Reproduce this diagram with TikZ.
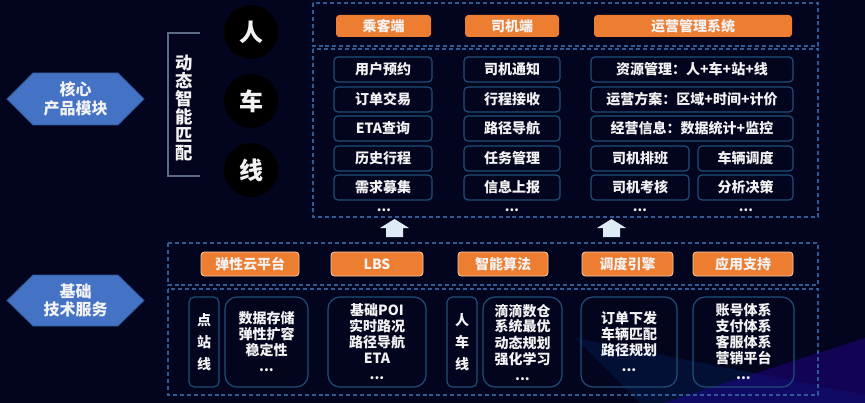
\documentclass[tikz,border=0pt]{standalone}
\usepackage{fontspec}
\setmainfont{Noto Sans CJK SC}
\definecolor{bg}{RGB}{3,5,30}
\definecolor{orng}{HTML}{ED7D31}
\definecolor{hexblue}{HTML}{4472C4}
\definecolor{dashc}{HTML}{2E5A96}
\definecolor{boxc}{HTML}{1F4E79}
\definecolor{arrc}{HTML}{DEEBF7}
\definecolor{brk}{HTML}{5B6A86}
\definecolor{txt}{HTML}{F2F2F2}
\newcommand\rbox[7]{\node[#1,minimum width={(#5-#3)*0.75pt},minimum height={(#6-#4)*0.75pt}] (#2) at ({(#3+#5)/2},{(#4+#6)/2}) {#7};}
\begin{document}
\begin{tikzpicture}[x=0.75pt,y=-0.75pt,
  every node/.style={text=txt},
  dbox/.style={draw=dashc,line width=0.9pt,dash pattern=on 3pt off 2.2pt},
  tab/.style={fill=orng,rounded corners=2.5pt,inner sep=0pt,font=\bfseries\fontsize{10.5}{12}\selectfont},
  tabb/.style={tab,draw=orng!40!white,line width=0.6pt},
  item/.style={draw=boxc,line width=0.9pt,rounded corners=3pt,inner sep=0pt,font=\bfseries\fontsize{10.5}{12}\selectfont},
  big/.style={draw=boxc,line width=0.9pt,rounded corners=9pt,inner sep=0pt,align=center,font=\bfseries\fontsize{10.5}{12}\selectfont},
  narrow/.style={draw=boxc,line width=0.9pt,rounded corners=4pt,inner sep=0pt,align=center,font=\bfseries\fontsize{10.5}{16.5}\selectfont},
  dots/.style={font=\bfseries\fontsize{10}{12}\selectfont,inner sep=0pt},
  circ/.style={circle,fill=black,minimum size=40.5pt,inner sep=0pt,font=\bfseries\fontsize{18}{20}\selectfont},
  hexa/.style={fill=hexblue,draw=dashc,line width=0.6pt},
  hextxt/.style={align=center,font=\bfseries\fontsize{12}{14}\selectfont},
  uparr/.style={fill=arrc}
]
\useasboundingbox (0,0) rectangle (865,403);
\fill[bg] (0,0) rectangle (865,403);
% background light wedges
\fill[fill=teal!60!blue,opacity=0.16] (575,338) -- (865,395) -- (865,403) -- (640,403) -- cycle;
\fill[fill=blue!60!violet,opacity=0.32] (663,403) -- (865,338) -- (865,403) -- cycle;

% hexagons
\fill[hexa] (7,99) -- (33,73) -- (118,73) -- (144,99) -- (118,125) -- (33,125) -- cycle;
\node[hextxt] (h1) at (75.5,99) {核心\\产品模块};
\fill[hexa] (7,300.5) -- (33,275) -- (118,275) -- (144,300.5) -- (118,326) -- (33,326) -- cycle;
\node[hextxt] (h2) at (75.5,300.5) {基础\\技术服务};

% bracket and vertical text
\coordinate (k1) at (200,33);
\coordinate (k2) at (168,33);
\coordinate (k3) at (168,176);
\coordinate (k4) at (200,176);
\draw[brk,line width=1pt] (k1) -- (k2) -- (k3) -- (k4);
\node[align=center,font=\bfseries\fontsize{13}{13.5}\selectfont,inner sep=0pt] (dyn) at (184,108) {动\\态\\智\\能\\匹\\配};

% circles
\node[circ] (c1) at (251,32) {人};
\node[circ] (c2) at (251,101) {车};
\node[circ] (c3) at (251,170) {线};

% top dashed boxes
\draw[dbox] (313,3) rectangle (818,46);
\draw[dbox] (313,49) rectangle (818,217);

% top tabs
\rbox{tab}{t1}{336}{15}{431}{37}{乘客端}
\rbox{tab}{t2}{465}{15}{559}{37}{司机端}
\rbox{tab}{t3}{594}{15}{792}{37}{运营管理系统}

% column 1
\rbox{item}{a1}{334}{57}{432}{82}{用户预约}
\rbox{item}{a2}{334}{87}{432}{112}{订单交易}
\rbox{item}{a3}{334}{116}{432}{141}{ETA查询}
\rbox{item}{a4}{334}{146}{432}{171}{历史行程}
\rbox{item}{a5}{334}{175}{432}{200}{需求募集}
\node[dots] (ad) at (384,210) {...};
% column 2
\rbox{item}{p1}{464}{57}{560}{82}{司机通知}
\rbox{item}{p2}{464}{87}{560}{112}{行程接收}
\rbox{item}{p3}{464}{116}{560}{141}{路径导航}
\rbox{item}{p4}{464}{146}{560}{171}{任务管理}
\rbox{item}{p5}{464}{175}{560}{200}{信息上报}
\node[dots] (pd) at (512,210) {...};
% column 3
\rbox{item}{m1}{591}{57}{793}{82}{资源管理：人+车+站+线}
\rbox{item}{m2}{591}{87}{793}{112}{运营方案：区域+时间+计价}
\rbox{item}{m3}{591}{116}{793}{141}{经营信息：数据统计+监控}
\rbox{item}{m4}{591}{146}{689}{171}{司机排班}
\rbox{item}{m5}{698}{146}{793}{171}{车辆调度}
\rbox{item}{m6}{591}{175}{689}{200}{司机考核}
\rbox{item}{m7}{698}{175}{793}{200}{分析决策}
\node[dots] (md1) at (640,210) {...};
\node[dots] (md2) at (746,210) {...};

% up arrows
\fill[uparr] (386,237) -- (386,228) -- (380,228) -- (394.5,219) -- (409,228) -- (403,228) -- (403,237) -- cycle;
\fill[uparr] (603,237) -- (603,228) -- (597,228) -- (611.5,219) -- (626,228) -- (620,228) -- (620,237) -- cycle;

% bottom dashed boxes
\draw[dbox] (168,243) rectangle (818,285);
\draw[dbox] (168,289) rectangle (818,395);

% bottom tabs
\rbox{tabb}{u1}{201}{252}{299}{276}{弹性云平台}
\rbox{tabb}{u2}{331}{252}{423}{276}{LBS}
\rbox{tabb}{u3}{458}{252}{548}{276}{智能算法}
\rbox{tabb}{u4}{582}{252}{673}{276}{调度引擎}
\rbox{tabb}{u5}{693}{252}{793}{276}{应用支持}

% bottom content boxes
\rbox{narrow}{n1}{189}{297}{219}{387}{点\\站\\线}
\rbox{big}{d1}{225}{297}{308}{387}{数据存储\\弹性扩容\\稳定性\\...}
\rbox{big}{d2}{328}{297}{426}{387}{基础POI\\实时路况\\路径导航\\ETA\\...}
\rbox{narrow}{n2}{447}{297}{477}{387}{人\\车\\线}
\rbox{big}{d3}{483}{297}{562}{387}{滴滴数仓\\系统最优\\动态规划\\强化学习\\...}
\rbox{big}{d4}{581}{297}{677}{387}{订单下发\\车辆匹配\\路径规划\\...}
\rbox{big}{d5}{693}{297}{794}{387}{账号体系\\支付体系\\客服体系\\营销平台\\...}
\end{tikzpicture}
\end{document}
